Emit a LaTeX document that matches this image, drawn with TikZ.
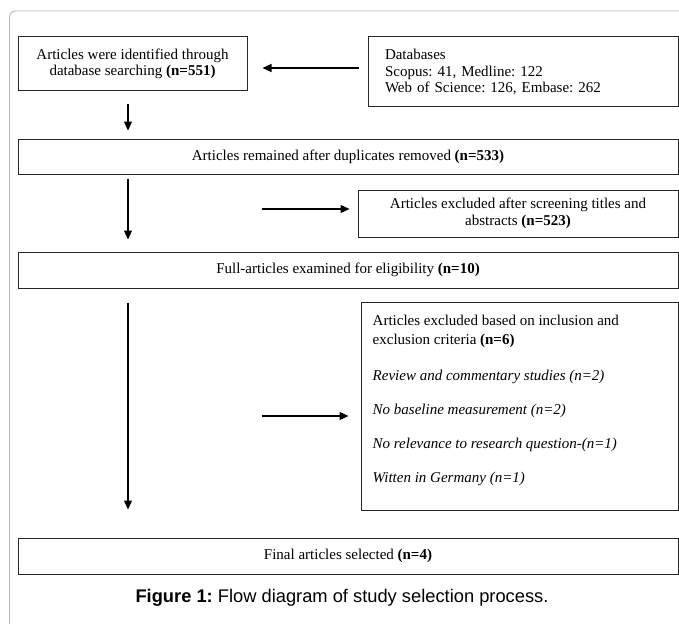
\documentclass[tikz,border=0pt]{standalone}
\usepackage{fontspec}
\setmainfont{Liberation Serif}
\newfontfamily\capfont{Liberation Sans}
\usetikzlibrary{arrows.meta,calc}
\frenchspacing
\begin{document}
\begin{tikzpicture}[x=1pt,y=-1pt,
  box/.style={draw=black!85, line width=1pt, inner sep=0pt, align=center,
              font=\fontsize{15}{16.5}\selectfont},
  arr/.style={line width=1.2pt, -{Triangle[width=8pt,length=9pt]}},
  frameline/.style={draw=black!28, line width=0.9pt}]
\useasboundingbox (0,0) rectangle (679,623);
\fill[white] (0,0) rectangle (679,623);
\draw[frameline, rounded corners=6pt] (9.5,626) -- (9.5,11) -- (682,11);

\node[box, minimum width=229pt, minimum height=54pt] (box1) at (132.5,64)
  {Articles were identified through\\database searching \textbf{(n=551)}};
\node[box, minimum width=310pt, minimum height=70pt, text width=276pt, align=left] (db) at (523,72)
  {Databases\\Scopus: 41, Medline: 122\\Web of Science: 126, Embase: 262};
\node[box, minimum width=660pt, minimum height=35pt] (box2) at (348,156.5)
  {Articles remained after duplicates removed \textbf{(n=533)}};
\node[box, minimum width=320pt, minimum height=47pt] (box3) at (518,213.5)
  {Articles excluded after screening titles and\\abstracts \textbf{(n=523)}};
\node[box, minimum width=660pt, minimum height=36pt] (box4) at (348,270)
  {Full-articles examined for eligibility \textbf{(n=10)}};
\node[box, minimum width=317pt, minimum height=208pt] (box5) at (519.5,406) {};
\node[anchor=north west, inner sep=0pt, align=left,
      font=\fontsize{15}{17.5}\selectfont] (box5t) at ($(box5.north west)+(12,13)$)
  {Articles excluded based on inclusion and\\[1.5pt]
   exclusion criteria \textbf{(n=6)}\\[19pt]
   \textit{Review and commentary studies (n=2)}\\[16.5pt]
   \textit{No baseline measurement (n=2)}\\[16.5pt]
   \textit{No relevance to research question-(n=1)}\\[16.5pt]
   \textit{Witten in Germany (n=1)}};
\node[box, minimum width=660pt, minimum height=36pt] (box6) at (348,556)
  {Final articles selected \textbf{(n=4)}};
\node[inner sep=0pt, font=\capfont\fontsize{18.3}{21}\selectfont] (cap) at (342,598)
  {\textbf{Figure 1:} Flow diagram of study selection process.};

\coordinate (col) at ($(box1.south)+(-4.5,0)$);
\draw[arr] ($(db.west)+(-9,-4)$) -- ($(box1.east)+(15,4)$);
\draw[arr] ($(col)+(0,13)$) -- ($(col |- box2.north)+(0,-8)$);
\draw[arr] ($(col |- box2.south)+(0,4)$) -- ($(col |- box4.north)+(0,-12)$);
\draw[arr] ($(box3.west)+(-96,-4.5)$) -- ($(box3.west)+(-8,-4.5)$);
\draw[arr] ($(col |- box4.south)+(0,14)$) -- ($(col |- box6.north)+(0,-28)$);
\draw[arr] ($(box5.west)+(-99,10)$) -- ($(box5.west)+(-12,10)$);
\end{tikzpicture}
\end{document}
